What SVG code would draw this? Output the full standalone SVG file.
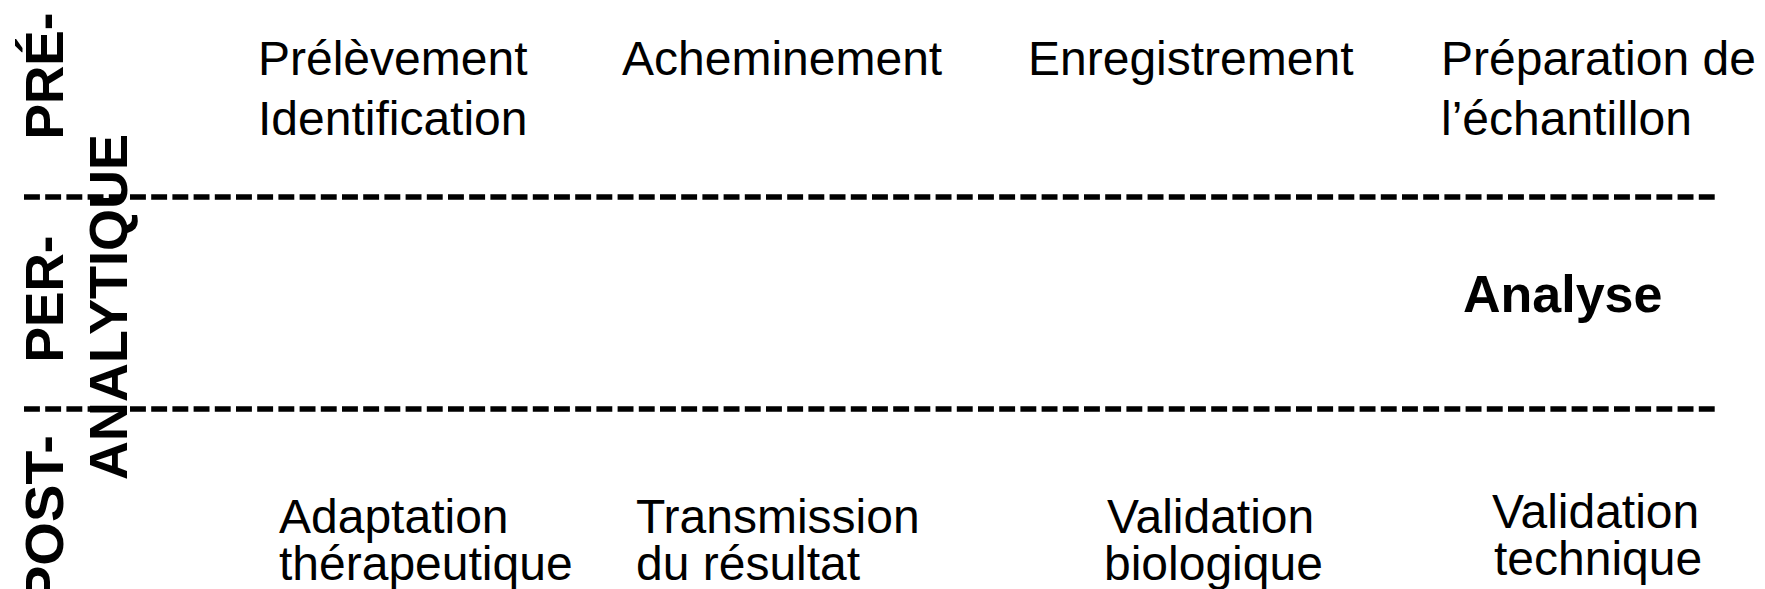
<svg xmlns="http://www.w3.org/2000/svg" width="1765" height="589" viewBox="0 0 1765 589">
  <style>
    .t { font-family: "Liberation Sans", Arial, sans-serif; font-size: 48px; fill: #000; }
    .b { font-family: "Liberation Sans", Arial, sans-serif; font-weight: bold; fill: #000; }
    .side { font-size: 53px; }
    .dash { stroke: #000; stroke-width: 5.3; stroke-dasharray: 15.9 5.3; fill: none; }
  </style>
  <rect width="1765" height="589" fill="#fff"/>

  <g id="phase-labels">
    <text class="b side" text-anchor="middle" transform="translate(63,76) rotate(-90)" textLength="127" lengthAdjust="spacingAndGlyphs">PRÉ-</text>
    <text class="b side" text-anchor="middle" transform="translate(63,299) rotate(-90)" textLength="127" lengthAdjust="spacingAndGlyphs">PER-</text>
    <text class="b side" transform="translate(63,603) rotate(-90)" textLength="168" lengthAdjust="spacingAndGlyphs">POST-</text>
    <text class="b side" text-anchor="middle" transform="translate(127,307) rotate(-90)" textLength="346" lengthAdjust="spacingAndGlyphs">ANALYTIQUE</text>
  </g>

  <g id="connectors">
    <line class="dash" x1="24" y1="197" x2="1716" y2="197"/>
    <line class="dash" x1="24" y1="409" x2="1716" y2="409"/>
  </g>

  <g id="pre-prelevement">
    <text class="t" x="258" y="75">Prélèvement</text>
    <text class="t" x="258" y="135">Identification</text>
  </g>
  <g id="pre-acheminement">
    <text class="t" x="622" y="75">Acheminement</text>
  </g>
  <g id="pre-enregistrement">
    <text class="t" x="1028" y="75">Enregistrement</text>
  </g>
  <g id="pre-preparation">
    <text class="t" x="1441" y="75">Préparation de</text>
    <text class="t" x="1441" y="135">l’échantillon</text>
  </g>

  <g id="per-analyse">
    <text class="b" x="1463" y="312" font-size="52">Analyse</text>
  </g>

  <g id="post-adaptation">
    <text class="t" x="279" y="533">Adaptation</text>
    <text class="t" x="279" y="580">thérapeutique</text>
  </g>
  <g id="post-transmission">
    <text class="t" x="636" y="533">Transmission</text>
    <text class="t" x="636" y="580">du résultat</text>
  </g>
  <g id="post-validation-bio">
    <text class="t" x="1107" y="533">Validation</text>
    <text class="t" x="1104" y="580">biologique</text>
  </g>
  <g id="post-validation-tech">
    <text class="t" x="1492" y="528">Validation</text>
    <text class="t" x="1494" y="575">technique</text>
  </g>
</svg>
